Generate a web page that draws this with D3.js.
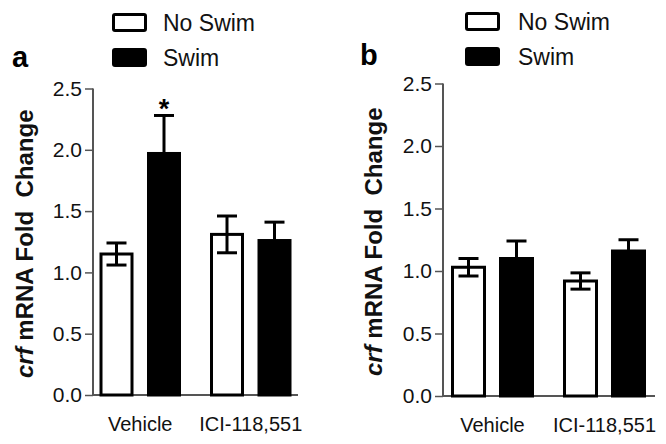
<!DOCTYPE html>
<html><head><meta charset="utf-8">
<script src="https://cdn.jsdelivr.net/npm/d3@7"></script>
<style>body{margin:0;background:#fff}svg{display:block;font-family:"Liberation Sans",Arial,sans-serif}</style>
</head><body>
<svg id="c" width="666" height="444"></svg>
<script>
const categories = ["Vehicle", "ICI-118,551"];
const series = ["No Swim", "Swim"];
const yTicks = [0, 0.5, 1.0, 1.5, 2.0, 2.5];
// panel a
const aNoSwim = [1.15, 1.31];
const aNoSwimErr = [0.09, 0.15];
const aSwim = [1.97, 1.26];
const aSwimErr = [0.31, 0.15];
// panel b
const bNoSwim = [1.03, 0.92];
const bNoSwimErr = [0.07, 0.065];
const bSwim = [1.10, 1.16];
const bSwimErr = [0.14, 0.09];
const significance = [["a", "Vehicle", "Swim", "*"]];

const svg = d3.select("#c");
const colors = {"No Swim": "#fff", "Swim": "#000"};

const panels = [
  {id: "a", letter: [12, 67], axisX: 93, axisEnd: 298, y0: 395, y1: 88.5, gRange: [85, 306], inner: [-39.25, 39.25], bw: 31,
   legend: {x: 112, y: 13, tx: 163}, ylabX: 33,
   noSwim: aNoSwim, noSwimErr: aNoSwimErr, swim: aSwim, swimErr: aSwimErr},
  {id: "b", letter: [360, 65], axisX: 443, axisEnd: 655, y0: 396, y1: 83.5, gRange: [436.5, 660.5], inner: [-40, 40], bw: 32,
   legend: {x: 465, y: 12, tx: 518}, ylabX: 382,
   noSwim: bNoSwim, noSwimErr: bNoSwimErr, swim: bSwim, swimErr: bSwimErr}
];

panels.forEach(p => {
  const g = svg.append("g");
  const y = d3.scaleLinear().domain([0, 2.5]).range([p.y0, p.y1]);
  const x0 = d3.scaleBand().domain(categories).range(p.gRange).padding(0);
  const step = (p.inner[1] - p.inner[0]);
  const x1 = d3.scaleBand().domain(series).range(p.inner)
    .paddingInner(1 - p.bw / ((step - p.bw))).paddingOuter(0);

  // y axis
  const ya = g.append("g").attr("transform", `translate(${p.axisX},0)`)
    .call(d3.axisLeft(y).tickValues(yTicks).tickFormat(d3.format(".1f")).tickSize(8).tickPadding(3));
  ya.select(".domain").attr("stroke", "#555").attr("stroke-width", 2).attr("d", `M0,${y(2.5)}V${y(0)}`);
  ya.selectAll(".tick line").attr("stroke", "#555").attr("stroke-width", 1.5);
  ya.selectAll(".tick text").attr("font-size", 21).attr("fill", "#111").attr("font-family", "Liberation Sans, Arial, sans-serif");

  // x axis
  g.append("line").attr("x1", p.axisX - 1).attr("x2", p.axisEnd).attr("y1", y(0)).attr("y2", y(0))
    .attr("stroke", "#555").attr("stroke-width", 2);
  const xa = g.append("g").attr("transform", `translate(0,${y(0)})`)
    .call(d3.axisBottom(x0).tickSize(0).tickPadding(22));
  xa.select(".domain").remove();
  xa.selectAll(".tick text").attr("font-size", 20).attr("fill", "#111").attr("font-family", "Liberation Sans, Arial, sans-serif");

  const rows = [];
  categories.forEach((c, i) => {
    rows.push({c, s: "No Swim", v: p.noSwim[i], e: p.noSwimErr[i]});
    rows.push({c, s: "Swim", v: p.swim[i], e: p.swimErr[i]});
  });
  const cx = d => x0(d.c) + x0.bandwidth() / 2 + x1(d.s) + x1.bandwidth() / 2;

  // error bars
  const eb = g.append("g").attr("stroke", "#000").attr("stroke-width", 3);
  rows.forEach(d => {
    eb.append("line").attr("x1", cx(d)).attr("x2", cx(d)).attr("y1", y(d.v - d.e)).attr("y2", y(d.v + d.e));
    eb.append("line").attr("x1", cx(d) - 10).attr("x2", cx(d) + 10).attr("y1", y(d.v + d.e)).attr("y2", y(d.v + d.e));
    eb.append("line").attr("x1", cx(d) - 10).attr("x2", cx(d) + 10).attr("y1", y(d.v - d.e)).attr("y2", y(d.v - d.e));
  });

  g.append("g").selectAll("rect").data(rows).join("rect")
    .attr("x", d => cx(d) - x1.bandwidth() / 2)
    .attr("width", x1.bandwidth())
    .attr("y", d => y(d.v))
    .attr("height", d => y(0) - y(d.v))
    .attr("fill", d => colors[d.s])
    .attr("fill-opacity", d => d.s === "No Swim" ? 0 : 1)
    .attr("stroke", "#000").attr("stroke-width", 3);

  // significance
  significance.filter(s => s[0] === p.id).forEach(s => {
    const d = rows.find(r => r.c === s[1] && r.s === s[2]);
    g.append("text").attr("x", cx(d)).attr("y", y(d.v + d.e) + 3)
      .attr("text-anchor", "middle").attr("font-size", 27).attr("font-weight", "bold").text(s[3]);
  });

  // panel letter
  g.append("text").attr("x", p.letter[0]).attr("y", p.letter[1]).attr("font-size", 29)
    .attr("font-weight", "bold").text(p.id);

  // legend
  series.forEach((s, i) => {
    const ly = p.legend.y + i * 35;
    g.append("rect").attr("x", p.legend.x + 1.5).attr("y", ly + 1.5).attr("width", 32).attr("height", 16)
      .attr("rx", 1.5).attr("fill", colors[s]).attr("stroke", "#000").attr("stroke-width", 3);
    g.append("text").attr("x", p.legend.tx).attr("y", ly + 18).attr("font-size", 23).attr("fill", "#111").text(s);
  });

  // y label
  const yl = g.append("text")
    .attr("transform", `translate(${p.ylabX},${(y(0) + y(2.5)) / 2 + 2}) rotate(-90)`)
    .attr("text-anchor", "middle").attr("font-size", 24).attr("font-weight", "bold").attr("fill", "#111");
  yl.append("tspan").attr("font-style", "italic").text("crf");
  yl.append("tspan").text(" mRNA Fold\u00a0 Change");
});
</script>
</body></html>
